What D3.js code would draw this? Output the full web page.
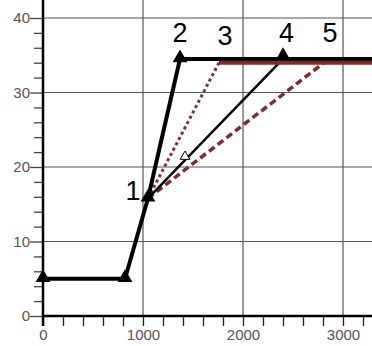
<!DOCTYPE html>
<html>
<head>
  <style>
    body { margin: 0; background: #fff; }
    svg { display: block; }
    .tick text { font-family: "Liberation Sans", Arial, sans-serif; font-size: 15px; fill: #555; }
    .label { font-family: "Liberation Sans", Arial, sans-serif; font-size: 27px; fill: #000; }
  </style>
</head>
<body>
  <svg id="container" width="372" height="346">
    <g id="grid"></g>
    <g id="xAxis"></g>
    <g id="yAxis"></g>
    <g id="body"></g>
  </svg>
<script src="https://cdn.jsdelivr.net/npm/d3@7"></script>
<script>
  // main curve (black, thick)
  let mainX = [0, 820, 1050, 1370, 3300];
  let mainY = [5, 5, 15.8, 34.5, 34.5];
  let mainMarks = [0, 1, 2, 3];

  // path 4 (black, thinner) with its small open marker
  let line4X = [1050, 2400];
  let line4Y = [15.8, 34.5];
  let openMarkX = [1420];
  let openMarkY = [21.4];

  // paths 3 and 5 (brown), plus the brown plateau
  let line3X = [1050, 1760];
  let line3Y = [15.8, 34.0];
  let line5X = [1050, 2810];
  let line5Y = [15.8, 34.0];
  let plateauX = [1760, 3300];
  let plateauY = [34.0, 34.0];

  let labels = ["1", "2", "3", "4", "5"];
  let labelX = [900, 1370, 1820, 2435, 2870];
  let labelY = [16.9, 38.1, 37.7, 38.1, 38.1];

  let xTicks = [0, 1000, 2000, 3000];
  let yTicks = [0, 10, 20, 30, 40];

  let x = d3.scaleLinear().domain([0, 3290]).range([43, 372]);
  let y = d3.scaleLinear().domain([0, 40]).range([316, 18]);

  let brown = "#7b2e2e";

  // grid
  let grid = d3.select("#grid");
  grid.selectAll("line.v")
    .data(xTicks.slice(1))
    .enter().append("line")
    .attr("x1", d => x(d)).attr("x2", d => x(d))
    .attr("y1", 0).attr("y2", y(0))
    .style("stroke", "#555").style("stroke-width", 1.2);
  grid.selectAll("line.h")
    .data(yTicks.slice(1))
    .enter().append("line")
    .attr("x1", x(0)).attr("x2", 372)
    .attr("y1", d => y(d)).attr("y2", d => y(d))
    .style("stroke", "#555").style("stroke-width", 1.2);

  // axes
  let xAxis = d3.axisBottom(x)
    .tickValues(d3.range(0, 3300, 200))
    .tickSize(10)
    .tickFormat(d => d % 1000 === 0 ? d : "");
  d3.select("#xAxis")
    .attr("transform", "translate(0," + y(0) + ")")
    .call(xAxis);
  d3.select("#xAxis .domain").remove();
  d3.select("#xAxis").append("line")
    .attr("x1", x(0)).attr("x2", 372).attr("y1", 0).attr("y2", 0)
    .style("stroke", "#000").style("stroke-width", 2.5);
  d3.selectAll("#xAxis .tick line").style("stroke", "#222").style("stroke-width", 1.3);
  d3.selectAll("#xAxis .tick text").attr("y", 13);

  let yAxis = d3.axisLeft(y)
    .tickValues(d3.range(0, 42, 2))
    .tickSize(9)
    .tickFormat(d => d % 10 === 0 ? d : "");
  d3.select("#yAxis")
    .attr("transform", "translate(" + x(0) + ",0)")
    .call(yAxis);
  d3.select("#yAxis .domain").remove();
  d3.select("#yAxis").append("line")
    .attr("x1", 0).attr("x2", 0).attr("y1", 0).attr("y2", y(0) + 10)
    .style("stroke", "#000").style("stroke-width", 2.5);
  d3.selectAll("#yAxis .tick line").style("stroke", "#444").style("stroke-width", 1.3);
  d3.selectAll("#yAxis .tick")
    .filter(d => d % 10 === 0)
    .select("line").attr("x2", -13);
  d3.selectAll("#yAxis .tick text").attr("x", -13);

  let body = d3.select("#body");
  let line = d3.line().x(d => x(d[0])).y(d => y(d[1]));
  let pts = (xs, ys) => xs.map((v, i) => [v, ys[i]]);

  body.append("path").attr("d", line(pts(line3X, line3Y)))
    .style("fill", "none").style("stroke", brown).style("stroke-width", 3)
    .style("stroke-dasharray", "3,3");
  body.append("path").attr("d", line(pts(line5X, line5Y)))
    .style("fill", "none").style("stroke", brown).style("stroke-width", 3.5)
    .style("stroke-dasharray", "7,4");
  body.append("path").attr("d", line(pts(line4X, line4Y)))
    .style("fill", "none").style("stroke", "#000").style("stroke-width", 2.5);
  body.append("path").attr("d", line(pts(mainX, mainY)))
    .style("fill", "none").style("stroke", "#000").style("stroke-width", 4)
    .style("stroke-linejoin", "round");
  body.append("path").attr("d", line(pts(plateauX, plateauY)))
    .style("fill", "none").style("stroke", brown).style("stroke-width", 4);

  let tri = d3.symbol().type(d3.symbolTriangle).size(95);
  let markPts = mainMarks.map(i => [mainX[i], mainY[i]]).concat([[line4X[1], line4Y[1] + 0.3]]);
  body.selectAll("path.mark")
    .data(markPts)
    .enter().append("path")
    .attr("d", tri)
    .attr("transform", d => "translate(" + x(d[0]) + "," + (y(d[1]) - 1) + ")")
    .style("fill", "#000");

  body.selectAll("path.open")
    .data(pts(openMarkX, openMarkY))
    .enter().append("path")
    .attr("d", d3.symbol().type(d3.symbolTriangle).size(40))
    .attr("transform", d => "translate(" + x(d[0]) + "," + y(d[1]) + ")")
    .style("fill", "#fff").style("stroke", "#000").style("stroke-width", 1);

  body.selectAll("text.label")
    .data(labels)
    .enter().append("text")
    .attr("class", "label")
    .attr("x", (d, i) => x(labelX[i]))
    .attr("y", (d, i) => y(labelY[i]))
    .attr("text-anchor", "middle")
    .attr("dy", "0.36em")
    .text(d => d);
</script>
</body>
</html>
